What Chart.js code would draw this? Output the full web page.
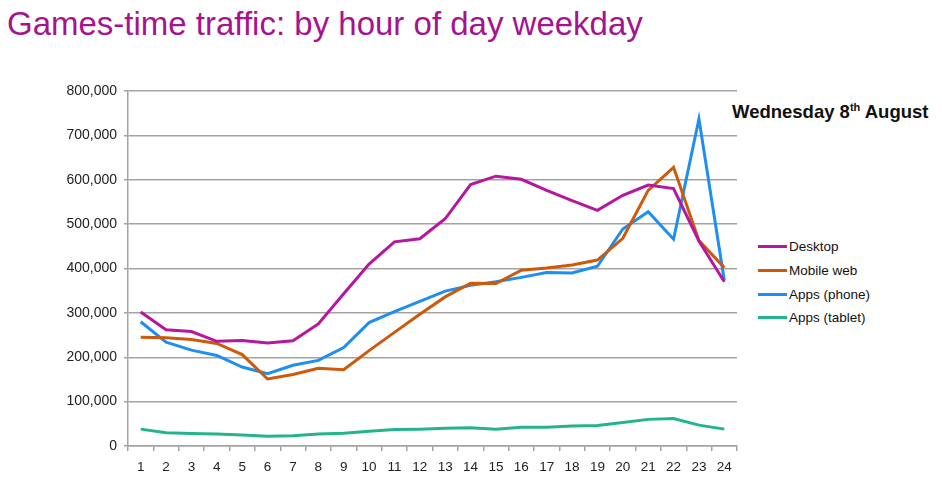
<!DOCTYPE html>
<html>
<head>
<meta charset="utf-8">
<script src="https://cdn.jsdelivr.net/npm/chart.js@4.4.1/dist/chart.umd.min.js"></script>
<style>
  html, body { margin: 0; padding: 0; background: #fff; }
  body { width: 942px; height: 488px; position: relative; overflow: hidden; font-family: "Liberation Sans", Arial, sans-serif; }
  #title { position: absolute; left: 7px; top: 5px; font-size: 33px; color: #a6138f; white-space: nowrap; }
  #note { position: absolute; left: 732px; top: 101px; font-size: 18.5px; font-weight: bold; color: #111; white-space: nowrap; }
  #note sup { font-size: 11px; vertical-align: 7px; line-height: 0; }
  #legend { position: absolute; left: 758px; top: 235px; font-size: 13.5px; color: #111; }
  .item { height: 23.7px; display: flex; align-items: center; }
  .swatch { width: 29px; height: 3px; margin-right: 2px; }
  #wrap { position: absolute; left: 0; top: 0; width: 942px; height: 488px; }
</style>
</head>
<body>
<div id="title">Games-time traffic: by hour of day weekday</div>
<div id="note">Wednesday 8<sup>th</sup> August</div>
<div id="legend"></div>
<div id="wrap"><canvas id="chart"></canvas></div>
<script>
const hours = ["1","2","3","4","5","6","7","8","9","10","11","12","13","14","15","16","17","18","19","20","21","22","23","24"];
const desktop = [302000, 262000, 258000, 236000, 238000, 232000, 237000, 275000, 343000, 410000, 460000, 467000, 512000, 589000, 608000, 601000, 576000, 553000, 531000, 565000, 588000, 580000, 462000, 370000];
const mobileWeb = [245000, 244000, 240000, 231000, 206000, 151000, 161000, 175000, 172000, 215000, 256000, 297000, 336000, 367000, 366000, 396000, 401000, 408000, 419000, 468000, 576000, 628000, 463000, 402000];
const appsPhone = [280000, 234000, 216000, 204000, 178000, 163000, 182000, 193000, 222000, 278000, 303000, 326000, 349000, 362000, 370000, 380000, 391000, 390000, 405000, 489000, 528000, 466000, 737000, 373000];
const appsTablet = [38000, 30000, 28000, 27000, 25000, 22000, 23000, 27000, 29000, 33000, 37000, 38000, 40000, 41000, 38000, 42000, 42000, 45000, 46000, 53000, 60000, 62000, 47000, 38000];
const seriesNames = ["Desktop", "Mobile web", "Apps (phone)", "Apps (tablet)"];
const seriesColors = ["#b5179e", "#cc5a0a", "#1e8ef0", "#24b48c"];

const gridGray = "#a3a3a3";
const allSeries = [desktop, mobileWeb, appsPhone, appsTablet];

const datasets = allSeries.map((vals, i) => ({
  label: seriesNames[i],
  data: vals,
  borderColor: seriesColors[i],
  backgroundColor: seriesColors[i],
  borderWidth: 3,
  pointRadius: 0,
  tension: 0,
  fill: false
}));

new Chart(document.getElementById("chart"), {
  type: "line",
  data: { labels: hours, datasets: datasets },
  options: {
    responsive: true,
    maintainAspectRatio: false,
    animation: false,
    layout: { padding: { top: 91, right: 205, left: 0, bottom: 0 } },
    plugins: { legend: { display: false }, tooltip: { enabled: false } },
    scales: {
      x: {
        offset: true,
        afterFit: (scale) => { scale.height = 42; },
        grid: { offset: true, drawOnChartArea: false, drawTicks: true, tickLength: 5, color: gridGray, lineWidth: 1.5 },
        border: { color: gridGray, width: 1.5 },
        ticks: { color: "#222", padding: 8, font: { family: "Liberation Sans", size: 13.5 }, maxRotation: 0, autoSkip: false }
      },
      y: {
        min: 0,
        max: 800000,
        afterFit: (scale) => { scale.width = 128; },
        grid: { color: gridGray, lineWidth: 1.5, tickLength: 4 },
        border: { color: gridGray, width: 1.5 },
        ticks: {
          stepSize: 100000,
          color: "#222",
          padding: 7,
          font: { family: "Liberation Sans", size: 14 },
          callback: (v) => v.toLocaleString("en-US")
        }
      }
    }
  }
});

const legend = document.getElementById("legend");
seriesNames.forEach((name, i) => {
  const row = document.createElement("div");
  row.className = "item";
  const sw = document.createElement("div");
  sw.className = "swatch";
  sw.style.background = seriesColors[i];
  const txt = document.createElement("span");
  txt.textContent = name;
  row.appendChild(sw);
  row.appendChild(txt);
  legend.appendChild(row);
});
</script>
</body>
</html>
